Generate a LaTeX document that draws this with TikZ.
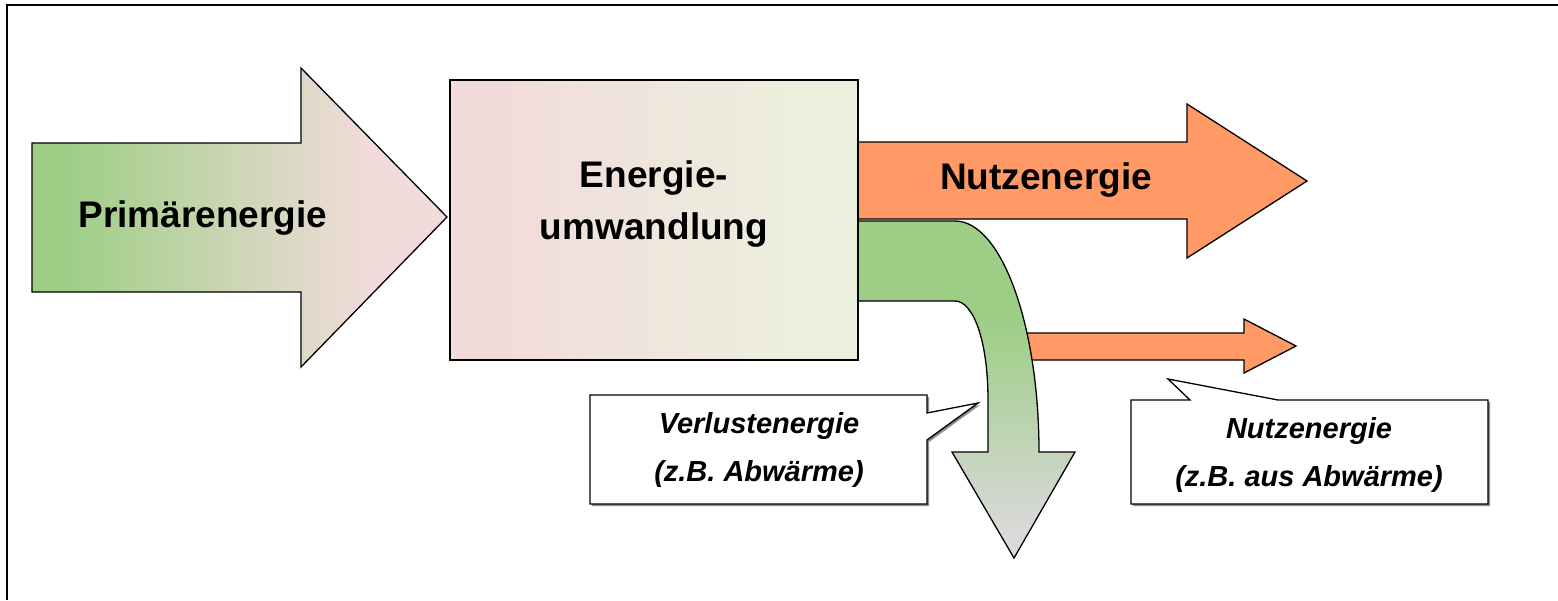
\documentclass[tikz,border=0pt]{standalone}
\usepackage{fontspec}
\setmainfont{Liberation Sans}
\definecolor{pgreen}{RGB}{158,206,134}
\definecolor{ppink}{RGB}{242,220,219}
\definecolor{lgreen}{RGB}{235,241,222}
\definecolor{orangeA}{RGB}{255,153,102}
\definecolor{grayA}{RGB}{217,217,217}
\definecolor{shadowA}{RGB}{140,140,140}
\pgfdeclarehorizontalshading{primshade}{100bp}{color(0bp)=(pgreen); color(29bp)=(pgreen); color(66bp)=(ppink); color(100bp)=(ppink)}
\pgfdeclarehorizontalshading{boxshade}{100bp}{color(0bp)=(ppink); color(32bp)=(ppink); color(72bp)=(lgreen); color(100bp)=(lgreen)}
\pgfdeclareverticalshading{lossshade}{100bp}{color(0bp)=(grayA); color(29bp)=(grayA); color(60bp)=(pgreen); color(100bp)=(pgreen)}
\begin{document}
\begin{tikzpicture}[x=1pt,y=-1pt,
  shapeline/.style={draw=black,line width=1.3pt,line join=miter},
  bigtext/.style={font=\fontsize{37}{52}\selectfont\bfseries,align=center,inner sep=0pt},
  calltext/.style={font=\fontsize{29}{48}\selectfont\bfseries\itshape,align=center,inner sep=0pt},
  callout/.style={shapeline,fill=white},
  calloutshadow/.style={fill=shadowA,draw=none}]
\useasboundingbox (0,0) rectangle (1558,600);
% frame
\draw[line width=2pt] (7,600) -- (7,5) -- (1558,5);
% primary arrow
\shade[shapeline,shading=primshade]
  (32,143) -- (301,143) -- (301,68) -- (447,217) -- (301,367) -- (301,292) -- (32,292) -- cycle;
% top useful energy arrow
\filldraw[shapeline,fill=orangeA]
  (858,142) -- (1187,142) -- (1187,104) -- (1307,181) -- (1187,258) -- (1187,219) -- (858,219) -- cycle;
% small useful energy arrow
\filldraw[shapeline,fill=orangeA]
  (1020,333) -- (1244,333) -- (1244,319) -- (1296,346) -- (1244,373) -- (1244,360) -- (1020,360) -- cycle;
% bent loss arrow
\shade[shapeline,shading=lossshade]
  (858,221) -- (955,221) .. controls (1001,221) and (1039,324) .. (1039,452)
  -- (1075,452) -- (1014,558) -- (952,452) -- (988,452) -- (988,400)
  .. controls (988,340) and (973,301) .. (955,301) -- (858,301) -- cycle;
% conversion box
\shade[shapeline,shading=boxshade] (450,80) rectangle (858,360);
% callouts
\fill[calloutshadow,shift={(2,2)}]
  (590,395) -- (927,395) -- (927,413) -- (978,403) -- (927,440) -- (927,504) -- (590,504) -- cycle;
\draw[callout]
  (590,395) -- (927,395) -- (927,413) -- (978,403) -- (927,440) -- (927,504) -- (590,504) -- cycle;
\fill[calloutshadow,shift={(2,2)}]
  (1131,400) -- (1190,400) -- (1168,379) -- (1278,400) -- (1488,400) -- (1488,504) -- (1131,504) -- cycle;
\draw[callout]
  (1131,400) -- (1190,400) -- (1168,379) -- (1278,400) -- (1488,400) -- (1488,504) -- (1131,504) -- cycle;
% texts
\node[bigtext] (prim) at (203,218) {Primärenergie};
\node[bigtext] (conv) at (654,204) {Energie-\\umwandlung};
\node[bigtext] (nutz) at (1046,180) {Nutzenergie};
\node[calltext] (verl) at (759,450) {Verlustenergie\\(z.B. Abwärme)};
\node[calltext] (nutz2) at (1309,455) {Nutzenergie\\(z.B. aus Abwärme)};
\end{tikzpicture}
\end{document}
